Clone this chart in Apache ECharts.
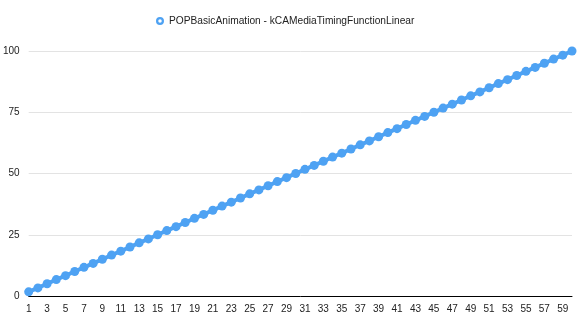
<!DOCTYPE html>
<html><head><meta charset="utf-8">
<script src="https://cdn.jsdelivr.net/npm/echarts@6/dist/echarts.min.js"></script>
<style>html,body{margin:0;padding:0;background:#fff}#c{width:584px;height:319px}</style>
</head><body><div id="c"></div>
<script>
const seriesName = 'POPBasicAnimation - kCAMediaTimingFunctionLinear';
const categories = [1,2,3,4,5,6,7,8,9,10,11,12,13,14,15,16,17,18,19,20,21,22,23,24,25,26,27,28,29,30,31,32,33,34,35,36,37,38,39,40,41,42,43,44,45,46,47,48,49,50,51,52,53,54,55,56,57,58,59,60];
const values = [1.7,3.3,5,6.7,8.3,10,11.7,13.3,15,16.7,18.3,20,21.7,23.3,25,26.7,28.3,30,31.7,33.3,35,36.7,38.3,40,41.7,43.3,45,46.7,48.3,50,51.7,53.3,55,56.7,58.3,60,61.7,63.3,65,66.7,68.3,70,71.7,73.3,75,76.7,78.3,80,81.7,83.3,85,86.7,88.3,90,91.7,93.3,95,96.7,98.3,100];
const yTicks = {min: 0, max: 100, interval: 25};
const color = '#4ea2f3';
const chart = echarts.init(document.getElementById('c'));
chart.setOption({
  animation: false,
  textStyle: {fontFamily: 'Liberation Sans, Arial, sans-serif'},
  legend: {
    top: 11, left: 151, itemWidth: 8, itemHeight: 8, itemGap: 5,
    textStyle: {fontSize: 10.2, color: '#222'},
    data: [{name: seriesName, icon: 'path://M50,0A50,50,0,1,1,49.9,0ZM50,28A22,22,0,1,0,50.1,28Z'}]
  },
  grid: {left: 25, right: 12, top: 51, bottom: 23},
  xAxis: {
    type: 'category', data: categories, boundaryGap: false,
    axisLine: {lineStyle: {color: '#000', width: 1}},
    axisTick: {show: false},
    axisLabel: {interval: 1, color: '#222', fontSize: 10, margin: 8},
    splitLine: {show: false}
  },
  yAxis: {
    type: 'value', min: yTicks.min, max: yTicks.max, interval: yTicks.interval,
    axisLine: {show: false}, axisTick: {show: false},
    axisLabel: {color: '#222', fontSize: 10, margin: 9},
    splitLine: {lineStyle: {color: '#e3e3e3', width: 1}}
  },
  series: [{
    name: seriesName, type: 'line', data: values,
    symbol: 'circle', symbolSize: 9, showSymbol: true, showAllSymbol: true,
    itemStyle: {color: color, borderWidth: 0},
    lineStyle: {color: color, width: 4},
    emphasis: {disabled: true}
  }]
});
</script></body></html>
